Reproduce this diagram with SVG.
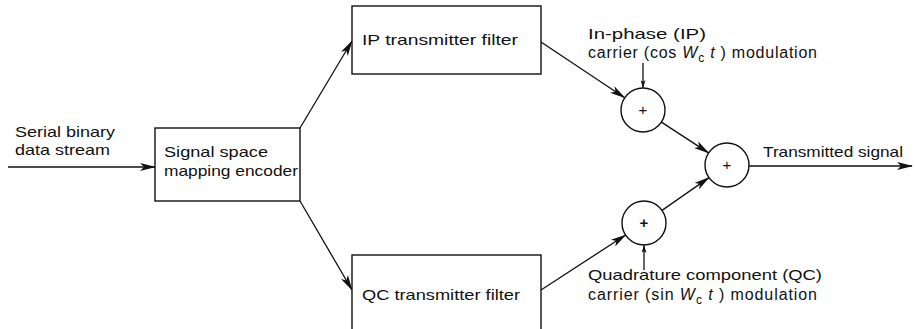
<svg xmlns="http://www.w3.org/2000/svg" width="915" height="329" viewBox="0 0 915 329">
<style>
text{font-family:"Liberation Sans",Arial,sans-serif;font-size:14.5px;fill:#111}
.box{fill:#fff;stroke:#111;stroke-width:1.4}
.sum{fill:#fff;stroke:#111;stroke-width:1.4}
.ln{fill:none;stroke:#111;stroke-width:1.3}
.car{font-size:16px}
.it{font-style:italic}
.sub{font-size:12px}
.plus{font-size:15px;text-anchor:middle}
</style>
<defs>
<marker id="a" viewBox="0 0 16 8" refX="15" refY="4" markerWidth="16" markerHeight="8" orient="auto" markerUnits="userSpaceOnUse"><path d="M0,0 L16,4 L0,8 L4,4 z" fill="#111"/></marker>
<marker id="s" viewBox="0 0 8 5" refX="8" refY="2.5" markerWidth="8" markerHeight="5" orient="auto" markerUnits="userSpaceOnUse"><path d="M0,0 L8,2.5 L0,5 L2,2.5 z" fill="#111"/></marker>
</defs>
<rect width="915" height="329" fill="#fff"/>
<g id="connectors">
<line class="ln" x1="8" y1="167" x2="155" y2="167" marker-end="url(#a)"/>
<line class="ln" x1="300" y1="128" x2="352" y2="41" marker-end="url(#a)"/>
<line class="ln" x1="300" y1="201" x2="352" y2="290" marker-end="url(#a)"/>
<line class="ln" x1="541" y1="42" x2="624.7" y2="97.8" marker-end="url(#a)"/>
<line class="ln" x1="661.4" y1="122.1" x2="708.6" y2="152.9" marker-end="url(#a)"/>
<line class="ln" x1="662" y1="210.4" x2="709" y2="177.6" marker-end="url(#a)"/>
<line class="ln" x1="541" y1="290" x2="625.6" y2="235" marker-end="url(#a)"/>
<line class="ln" x1="749" y1="166" x2="912" y2="166" marker-end="url(#a)"/>
<line class="ln" x1="643" y1="63" x2="643" y2="88" marker-end="url(#s)"/>
<line class="ln" x1="644" y1="270" x2="644" y2="245" marker-end="url(#s)"/>
</g>
<g id="input-label">
<text x="15" y="137" textLength="100" lengthAdjust="spacingAndGlyphs">Serial binary</text>
<text x="15" y="155" textLength="95" lengthAdjust="spacingAndGlyphs">data stream</text>
</g>
<g id="encoder">
<rect class="box" x="155" y="128" width="145" height="73"/>
<text x="164" y="157" textLength="104" lengthAdjust="spacingAndGlyphs">Signal space</text>
<text x="164" y="176" textLength="134" lengthAdjust="spacingAndGlyphs">mapping encoder</text>
</g>
<g id="ip-filter">
<rect class="box" x="352" y="6" width="189" height="68"/>
<text x="362" y="45" textLength="156" lengthAdjust="spacingAndGlyphs">IP transmitter filter</text>
</g>
<g id="qc-filter">
<rect class="box" x="352" y="255" width="189" height="85"/>
<text x="362" y="300" textLength="158" lengthAdjust="spacingAndGlyphs">QC transmitter filter</text>
</g>
<g id="ip-modulator">
<circle class="sum" cx="643" cy="110" r="22"/>
<text class="plus" x="643" y="115">+</text>
</g>
<g id="qc-modulator">
<circle class="sum" cx="644" cy="223" r="22"/>
<text class="plus" x="644" y="228" font-weight="bold">+</text>
</g>
<g id="summer">
<circle class="sum" cx="727" cy="165" r="22"/>
<text class="plus" x="727" y="170">+</text>
</g>
<g id="ip-carrier-label">
<text x="588" y="39" textLength="118" lengthAdjust="spacingAndGlyphs">In-phase  (IP)</text>
<text class="car" x="588" y="58" textLength="229" lengthAdjust="spacing">carrier (cos <tspan class="it">W</tspan><tspan class="sub" dy="4">c</tspan><tspan class="it" dy="-4"> t</tspan> ) modulation</text>
</g>
<g id="output-label">
<text x="763" y="157" textLength="140" lengthAdjust="spacingAndGlyphs">Transmitted signal</text>
</g>
<g id="qc-carrier-label">
<text x="588" y="280" textLength="234" lengthAdjust="spacingAndGlyphs">Quadrature component (QC)</text>
<text class="car" x="588" y="300" textLength="229" lengthAdjust="spacing">carrier (sin <tspan class="it">W</tspan><tspan class="sub" dy="4">c</tspan><tspan class="it" dy="-4"> t</tspan> ) modulation</text>
</g>
</svg>
